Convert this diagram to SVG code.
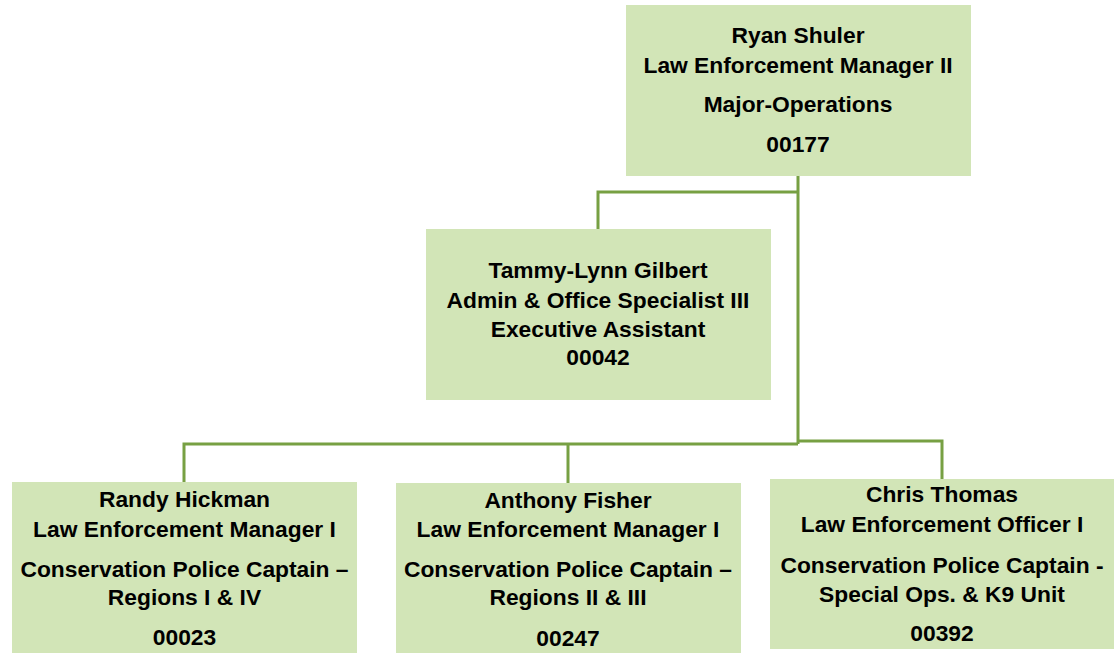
<svg xmlns="http://www.w3.org/2000/svg" width="1114" height="656" viewBox="0 0 1114 656">
<style>
.box{fill:#D2E5B7;}
.t{font-family:"Liberation Sans",Arial,sans-serif;font-weight:bold;font-size:22.8px;fill:#000;text-anchor:middle;}
.c{fill:none;stroke:#77A043;stroke-width:3;}
</style>
<rect width="1114" height="656" fill="#fff"/>
<g id="connectors">
<path class="c" d="M798,176 V444"/>
<path class="c" d="M798,192 H598 V229"/>
<path class="c" d="M798,444 H184 V482"/>
<path class="c" d="M568,444 V483"/>
<path class="c" d="M798,441 H942 V479"/>
</g>
<g id="ryan">
<rect class="box" x="626" y="5" width="345" height="171"/>
<text class="t" x="798" y="43">Ryan Shuler</text>
<text class="t" x="798" y="73">Law Enforcement Manager II</text>
<text class="t" x="798" y="112">Major-Operations</text>
<text class="t" x="798" y="152">00177</text>
</g>
<g id="tammy">
<rect class="box" x="426" y="229" width="345" height="171"/>
<text class="t" x="598" y="278">Tammy-Lynn Gilbert</text>
<text class="t" x="598" y="308">Admin &amp; Office Specialist III</text>
<text class="t" x="598" y="337">Executive Assistant</text>
<text class="t" x="598" y="365">00042</text>
</g>
<g id="randy">
<rect class="box" x="12" y="482" width="345" height="171"/>
<text class="t" x="184.5" y="507">Randy Hickman</text>
<text class="t" x="184.5" y="537">Law Enforcement Manager I</text>
<text class="t" x="184.5" y="577">Conservation Police Captain –</text>
<text class="t" x="184.5" y="605">Regions I &amp; IV</text>
<text class="t" x="184.5" y="645">00023</text>
</g>
<g id="anthony">
<rect class="box" x="396" y="483" width="345" height="170"/>
<text class="t" x="568" y="508">Anthony Fisher</text>
<text class="t" x="568" y="537">Law Enforcement Manager I</text>
<text class="t" x="568" y="577">Conservation Police Captain –</text>
<text class="t" x="568" y="605">Regions II &amp; III</text>
<text class="t" x="568" y="646">00247</text>
</g>
<g id="chris">
<rect class="box" x="770" y="479" width="344" height="170"/>
<text class="t" x="942" y="502">Chris Thomas</text>
<text class="t" x="942" y="532">Law Enforcement Officer I</text>
<text class="t" x="942" y="573">Conservation Police Captain -</text>
<text class="t" x="942" y="602">Special Ops. &amp; K9 Unit</text>
<text class="t" x="942" y="641">00392</text>
</g>
</svg>
